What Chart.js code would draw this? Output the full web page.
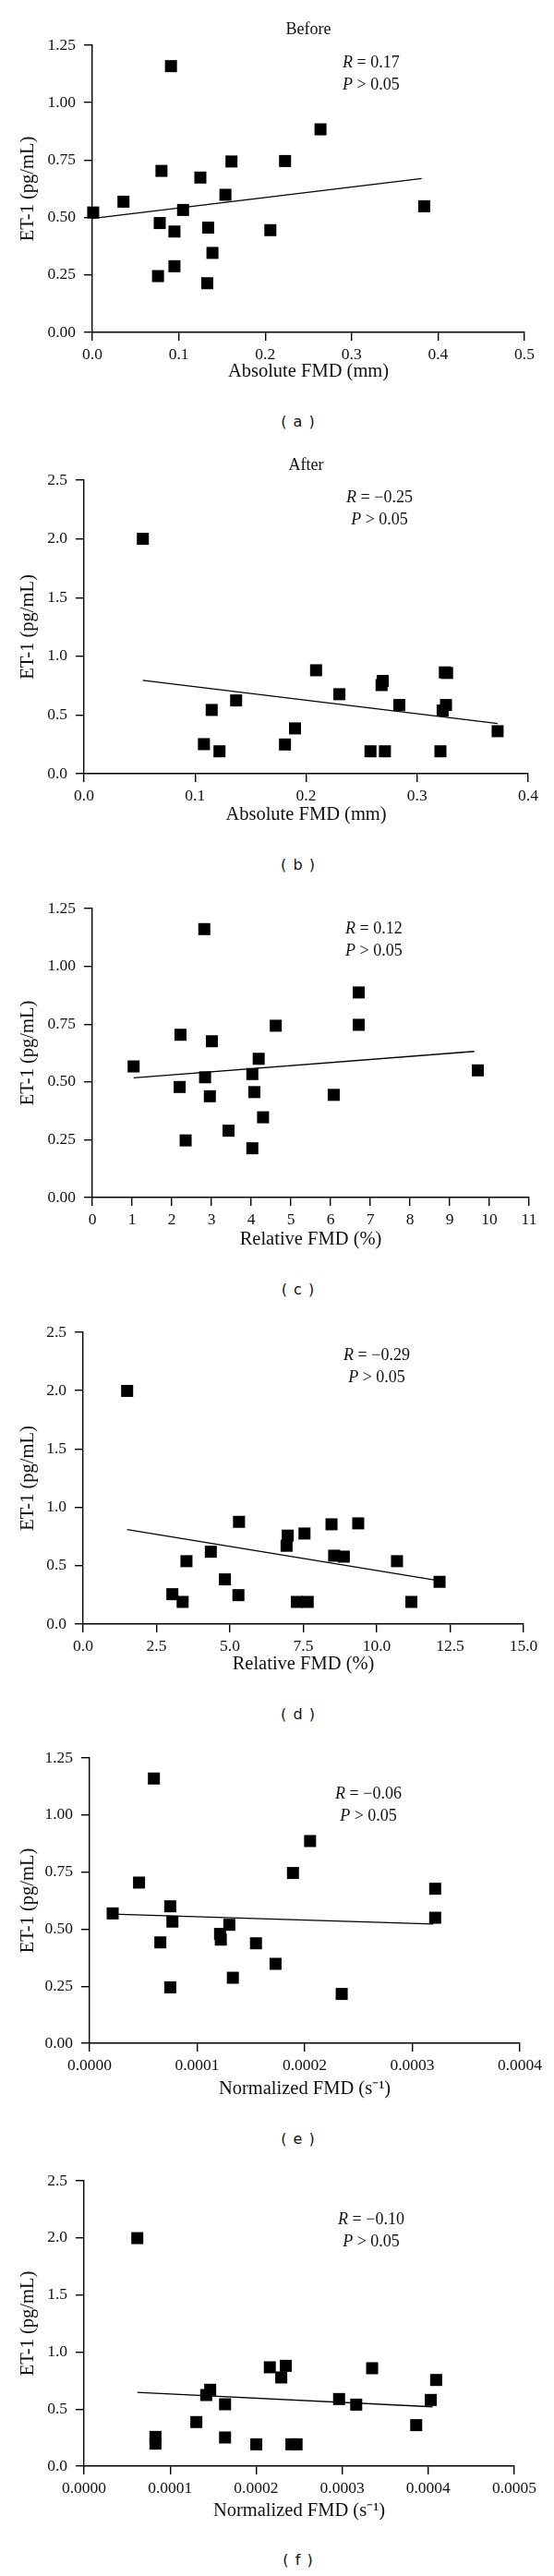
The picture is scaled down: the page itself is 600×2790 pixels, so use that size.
<!DOCTYPE html>
<html>
<head>
<meta charset="utf-8">
<script src="https://cdn.jsdelivr.net/npm/chart.js@4"></script>
<style>
  body { margin: 0; background: #fff; }
  #page { position: relative; width: 600px; height: 2790px; overflow: hidden; }
  canvas { position: absolute; left: 0; }
  .txt { position: absolute; font: 18px "Liberation Serif", serif; color: #111; line-height: 1; white-space: nowrap; z-index: 2; }
  .mid { transform: translate(-50%, -50%); }
  .lft { transform: translate(0, -50%); }
  .cap { position: absolute; font: 16px "DejaVu Sans", sans-serif; color: #111; line-height: 1; transform: translate(-50%, -50%); letter-spacing: 1px; }
</style>
</head>
<body>
<div id="page"></div>
<script>
// (a) before, absolute FMD
const aX = [0.001, 0.036, 0.080, 0.091, 0.078, 0.076, 0.095, 0.095, 0.105, 0.125, 0.134, 0.139, 0.133, 0.154, 0.161, 0.206, 0.223, 0.264, 0.384];
const aY = [0.522, 0.569, 0.703, 1.159, 0.476, 0.245, 0.439, 0.288, 0.533, 0.674, 0.456, 0.346, 0.214, 0.599, 0.744, 0.445, 0.746, 0.884, 0.549];
const aLineX = [0, 0.381];
const aLineY = [0.496, 0.670];

// (b) after, absolute FMD
const bX = [0.053, 0.108, 0.115, 0.122, 0.137, 0.181, 0.190, 0.209, 0.230, 0.258, 0.271, 0.268, 0.269, 0.284, 0.321, 0.323, 0.326, 0.325, 0.327, 0.3725];
const bY = [2.00, 0.252, 0.543, 0.191, 0.624, 0.249, 0.386, 0.881, 0.677, 0.191, 0.191, 0.755, 0.790, 0.585, 0.191, 0.538, 0.585, 0.863, 0.858, 0.362];
const bLineX = [0.053, 0.3725];
const bLineY = [0.795, 0.428];

// (c) before, relative FMD
const cX = [1.04, 2.22, 2.20, 2.35, 2.82, 2.84, 3.01, 2.96, 3.43, 4.03, 4.08, 4.19, 4.30, 4.03, 4.62, 6.08, 6.71, 6.71, 9.71];
const cY = [0.567, 0.704, 0.478, 0.247, 1.161, 0.520, 0.676, 0.438, 0.289, 0.534, 0.456, 0.600, 0.347, 0.213, 0.743, 0.444, 0.887, 0.747, 0.550];
const cLineX = [1.04, 9.62];
const cLineY = [0.518, 0.632];

// (d) after, relative FMD
const dX = [1.50, 3.04, 3.39, 3.52, 4.35, 4.83, 5.29, 5.31, 6.93, 6.97, 7.28, 7.65, 7.54, 8.46, 8.55, 8.88, 9.37, 10.69, 11.18, 12.14];
const dY = [1.998, 0.256, 0.190, 0.539, 0.620, 0.383, 0.248, 0.876, 0.671, 0.758, 0.190, 0.190, 0.776, 0.855, 0.586, 0.578, 0.863, 0.539, 0.190, 0.362];
const dLineX = [1.50, 12.14];
const dLineY = [0.810, 0.370];

// (e) before, normalized FMD
const eX = [0.0000215, 0.0000460, 0.0000598, 0.0000658, 0.0000750, 0.0000770, 0.0000750, 0.0001213, 0.0001220, 0.0001299, 0.0001332, 0.0001547, 0.0001729, 0.0001891, 0.0002050, 0.0002344, 0.0003213, 0.0003213];
const eY = [0.569, 0.704, 1.160, 0.442, 0.600, 0.533, 0.245, 0.479, 0.454, 0.519, 0.287, 0.438, 0.348, 0.746, 0.886, 0.216, 0.677, 0.550];
const eLineX = [0.0000215, 0.0003197];
const eLineY = [0.566, 0.522];

// (f) after, normalized FMD
const fX = [0.0000619, 0.0000830, 0.0000830, 0.0001305, 0.0001420, 0.0001466, 0.0001639, 0.0001639, 0.0002002, 0.0002159, 0.0002292, 0.0002345, 0.0002410, 0.0002470, 0.0002964, 0.0003163, 0.0003348, 0.0003860, 0.0004030, 0.0004092];
const fY = [1.998, 0.256, 0.197, 0.386, 0.623, 0.669, 0.542, 0.251, 0.191, 0.866, 0.777, 0.879, 0.191, 0.191, 0.588, 0.539, 0.858, 0.359, 0.580, 0.755];
const fLineX = [0.0000619, 0.0004050];
const fLineY = [0.647, 0.520];

// tick values
const yTicksLow = [0, 0.25, 0.5, 0.75, 1, 1.25];
const yTicksHigh = [0, 0.5, 1, 1.5, 2, 2.5];
const aXTicks = [0, 0.1, 0.2, 0.3, 0.4, 0.5];
const bXTicks = [0, 0.1, 0.2, 0.3, 0.4];
const cXTicks = [0, 1, 2, 3, 4, 5, 6, 7, 8, 9, 10, 11];
const dXTicks = [0, 2.5, 5, 7.5, 10, 12.5, 15];
const eXTicks = [0, 0.0001, 0.0002, 0.0003, 0.0004];
const fXTicks = [0, 0.0001, 0.0002, 0.0003, 0.0004, 0.0005];

const rTexts = ["0.17", "\u22120.25", "0.12", "\u22120.29", "\u22120.06", "\u22120.10"];

const PAD_TOP = 20;
const TICK_FONT = 17.5;
const TITLE_FONT = 20.5;

// plot-area boxes in page pixels
const panels = [
  { cap: "( a )", capY: 457, head: "Before", headY: 31, x: aX, y: aY, lx: aLineX, ly: aLineY, xt: aXTicks, yt: yTicksLow, xd: 1, yd: 2,
    xTitle: "Absolute FMD (mm)", left: 100, right: 568, top: 49, bottom: 360, xh: 55, rX: 371, rY: 67, rAlign: "lft" },
  { cap: "( b )", capY: 937, head: "After", headY: 503, x: bX, y: bY, lx: bLineX, ly: bLineY, xt: bXTicks, yt: yTicksHigh, xd: 1, yd: 1,
    xTitle: "Absolute FMD (mm)", left: 91, right: 572, top: 520, bottom: 838, xh: 57, rX: 411, rY: 538, rAlign: "mid" },
  { cap: "( c )", capY: 1397, x: cX, y: cY, lx: cLineX, ly: cLineY, xt: cXTicks, yt: yTicksLow, xd: 0, yd: 2,
    xTitle: "Relative FMD (%)", left: 100, right: 573, top: 984, bottom: 1297, xh: 58, rX: 374, rY: 1005, rAlign: "lft" },
  { cap: "( d )", capY: 1857, x: dX, y: dY, lx: dLineX, ly: dLineY, xt: dXTicks, yt: yTicksHigh, xd: 1, yd: 1,
    xTitle: "Relative FMD (%)", left: 90, right: 567, top: 1443, bottom: 1759, xh: 56, rX: 408, rY: 1467, rAlign: "mid" },
  { cap: "( e )", capY: 2317, x: eX, y: eY, lx: eLineX, ly: eLineY, xt: eXTicks, yt: yTicksLow, xd: 4, yd: 2,
    xTitle: "Normalized FMD (s\u207B\u00B9)", left: 97, right: 563, top: 1904, bottom: 2213, xh: 62, rX: 399, rY: 1942, rAlign: "mid" },
  { cap: "( f )", capY: 2773, x: fX, y: fY, lx: fLineX, ly: fLineY, xt: fXTicks, yt: yTicksHigh, xd: 4, yd: 1,
    xTitle: "Normalized FMD (s\u207B\u00B9)", left: 91, right: 557, top: 2362, bottom: 2671, xh: 61, rX: 402, rY: 2403, rAlign: "mid" }
];

const page = document.getElementById("page");
Chart.defaults.font.family = "'Liberation Serif', serif";
Chart.defaults.font.size = TICK_FONT;
Chart.defaults.color = "#111";

function addText(cls, text, x, y, html) {
  const d = document.createElement("div");
  d.className = cls;
  if (html) d.innerHTML = text; else d.textContent = text;
  d.style.left = x + "px";
  d.style.top = y + "px";
  page.appendChild(d);
}

function makePanel(p, i) {
  const h = p.bottom - p.top + PAD_TOP + p.xh;
  const c = document.createElement("canvas");
  c.width = 600;
  c.height = h;
  c.style.top = (p.top - PAD_TOP) + "px";
  page.appendChild(c);

  const axisGrid = { drawOnChartArea: false, drawTicks: true, tickLength: 9, color: "#000", lineWidth: 1.4 };
  const axisBorder = { display: true, color: "#000", width: 1.4 };

  new Chart(c, {
    type: "scatter",
    data: {
      datasets: [
        {
          data: p.x.map((v, k) => ({ x: v, y: p.y[k] })),
          pointStyle: "rect", pointRadius: 9.2, pointHoverRadius: 9.2,
          backgroundColor: "#000", borderWidth: 0, clip: false
        },
        {
          data: p.lx.map((v, k) => ({ x: v, y: p.ly[k] })),
          showLine: true, borderColor: "#000", borderWidth: 1.3, pointRadius: 0, clip: false
        }
      ]
    },
    options: {
      responsive: false,
      animation: false,
      events: [],
      layout: { padding: { top: PAD_TOP, right: 600 - p.right, left: 0, bottom: 0 } },
      plugins: { legend: { display: false }, tooltip: { enabled: false } },
      scales: {
        x: {
          type: "linear", min: p.xt[0], max: p.xt[p.xt.length - 1],
          afterBuildTicks: s => { s.ticks = p.xt.map(v => ({ value: v })); },
          afterFit: s => { s.height = p.xh; },
          ticks: { callback: v => Number(v).toFixed(p.xd), padding: 4.5, maxRotation: 0, autoSkip: false },
          grid: axisGrid, border: axisBorder,
          title: { display: true, text: p.xTitle, padding: { top: 0, bottom: 0 }, font: { size: TITLE_FONT } }
        },
        y: {
          type: "linear", min: p.yt[0], max: p.yt[p.yt.length - 1],
          afterBuildTicks: s => { s.ticks = p.yt.map(v => ({ value: v })); },
          afterFit: s => { s.width = p.left; },
          ticks: { callback: v => Number(v).toFixed(p.yd), padding: 9, autoSkip: false },
          grid: axisGrid, border: axisBorder,
          title: { display: true, text: "ET-1 (pg/mL)", padding: { top: 18.5, bottom: 0 }, font: { size: TITLE_FONT } }
        }
      }
    }
  });

  if (p.head) addText("txt mid", p.head, (p.left + p.right) / 2, p.headY);
  addText("txt " + p.rAlign, "<i>R</i> = " + rTexts[i], p.rX, p.rY, true);
  addText("txt " + p.rAlign, "<i>P</i> &gt; 0.05", p.rX, p.rY + 24, true);
  addText("cap", p.cap, 323, p.capY);
}

panels.forEach(makePanel);
</script>
</body>
</html>
